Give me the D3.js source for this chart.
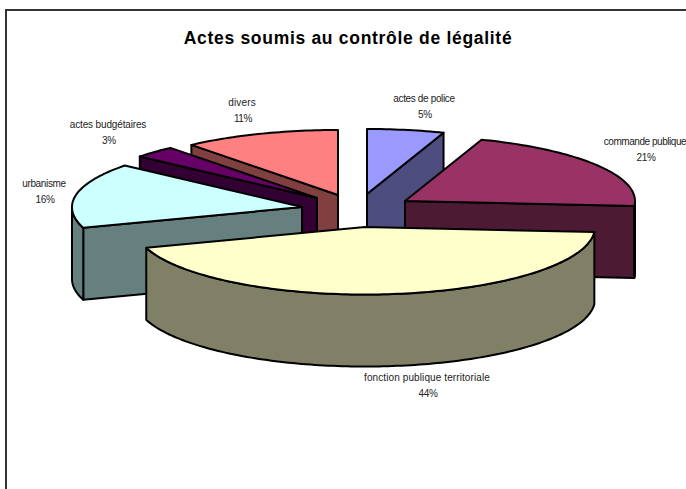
<!DOCTYPE html>
<html><head><meta charset="utf-8">
<script src="https://cdn.jsdelivr.net/npm/d3@7/dist/d3.min.js"></script>
<style>html,body{margin:0;padding:0;background:#fff}svg{display:block}
text{font-family:"Liberation Sans",Arial,sans-serif}</style></head>
<body><script>
const categories=["actes de police","commande publique","fonction publique territoriale","urbanisme","actes budgétaires","divers"];
const values=[5.4,20.8,43.8,16,3,11];
const percentLabels=["5%","21%","44%","16%","3%","11%"];
const topColors=["#9999FF","#993366","#FFFFCC","#CCFFFF","#660066","#FF8080"];
const sideColors=["#4D4D80","#4D1A33","#808066","#668080","#330033","#804040"];
const apexX=[367,405,365,302,317,338];
const apexY=[194,201,227,207,198,195];
const labelX=[424,645,427,44,108,242];
const labelY=[102,145,381,187,128,106];
const labelSpacing=[-0.35,-0.45,0.1,-0.35,-0.15,0.15];
const paintOrder=[5,4,3,0,1,2];

const W=686,H=489,rx=230,ryBack=65,ryFront=67.5,depth=72;
const svg=d3.select("body").append("svg").attr("width",W).attr("height",H);

svg.append("path").attr("d",`M6 489V10H686`).attr("fill","none").attr("stroke","#333").attr("stroke-width",2);
svg.append("text").attr("x",348).attr("y",44).attr("text-anchor","middle")
  .attr("font-size",17.5).attr("font-weight","bold").attr("fill","#000").attr("letter-spacing",0.7)
  .text("Actes soumis au contrôle de légalité");

const pie=d3.pie().sort(null).value(d=>d);
const arcs=pie(values);
const sx=d3.scaleLinear().domain([-1,1]).range([-rx,rx]);
const sy=a=>Math.cos(a)>0?ryBack:ryFront;
const pt=(i,a,dz=0)=>[apexX[i]+sx(Math.sin(a)),apexY[i]-sy(a)*Math.cos(a)+dz];
const line=d3.line();
const arcPts=(i,a0,a1,dz)=>{const n=Math.max(2,Math.ceil((a1-a0)/0.02));
  return d3.range(n+1).map(k=>pt(i,a0+(a1-a0)*k/n,dz));};
const g=svg.append("g").attr("stroke","#000").attr("stroke-width",2).attr("stroke-linejoin","round");

paintOrder.forEach(i=>{
  const {startAngle:a0,endAngle:a1}=arcs[i];
  const apex=[apexX[i],apexY[i]],low=[apex[0],apex[1]+depth];
  const face=pts=>g.append("path").attr("d",line(pts)+"Z").attr("fill",sideColors[i]);
  if(a0>Math.PI){const p=pt(i,a0);face([apex,p,[p[0],p[1]+depth],low]);}
  if(a1<Math.PI){const p=pt(i,a1);face([apex,p,[p[0],p[1]+depth],low]);}
  const f0=Math.max(a0,Math.PI/2),f1=Math.min(a1,Math.PI*1.5);
  if(f1>f0){face([...arcPts(i,f0,f1,0),...arcPts(i,f0,f1,depth).reverse()]);}
  g.append("path").attr("d",line([apex,...arcPts(i,a0,a1,0)])+"Z").attr("fill",topColors[i]);
});

const lab=svg.append("g").attr("text-anchor","middle").attr("font-size",10).attr("fill","#222");
categories.forEach((c,i)=>{
  lab.append("text").attr("x",labelX[i]).attr("y",labelY[i]).attr("letter-spacing",labelSpacing[i]).text(c);
  lab.append("text").attr("x",labelX[i]+1).attr("y",labelY[i]+15.5).attr("letter-spacing",-0.35).text(percentLabels[i]);
});
</script></body></html>
